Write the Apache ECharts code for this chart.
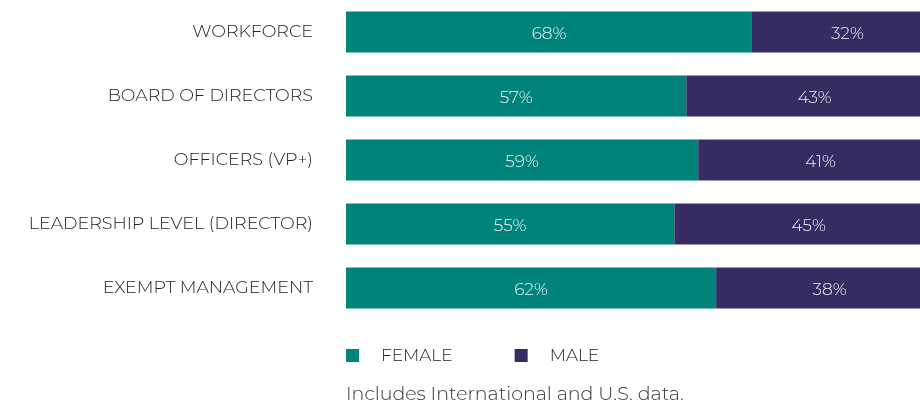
<!DOCTYPE html>
<html>
<head>
<meta charset="utf-8">
<script src="https://cdn.jsdelivr.net/npm/echarts@6/dist/echarts.min.js"></script>
<style>
  html, body { margin: 0; padding: 0; background: #fff; }
  #chart { width: 920px; height: 402px; }
</style>
</head>
<body>
<div id="chart"></div>
<script>
// categories, top to bottom
const categories = [
  "WORKFORCE",
  "BOARD OF DIRECTORS",
  "OFFICERS (VP+)",
  "LEADERSHIP LEVEL (DIRECTOR)",
  "EXEMPT MANAGEMENT"
];
const female = [68, 57, 59, 55, 62];
const male = [32, 43, 41, 45, 38];
const seriesNames = ["FEMALE", "MALE"];
const note = "Includes International and U.S. data.";

const font = "Montserrat, Inter, 'Open Sans', sans-serif";

const chart = echarts.init(document.getElementById("chart"));

const valueLabel = {
  show: true,
  position: "inside",
  offset: [0, 1.5],
  formatter: p => p.value + "%",
  color: "#eef0f2",
  fontSize: 17,
  fontFamily: font,
  fontWeight: 300
};

chart.setOption({
  animation: false,
  color: ["#00837a", "#372c62"],
  // the original bars run past the right edge of the picture
  grid: {
    left: 346,
    top: 0,
    width: 597,
    height: 320,
    containLabel: false,
    outerBoundsMode: "none"
  },
  xAxis: {
    type: "value",
    min: 0,
    max: 100,
    show: false
  },
  yAxis: {
    type: "category",
    inverse: true,
    data: categories,
    axisLine: { show: false },
    axisTick: { show: false },
    axisLabel: {
      margin: 33,
      color: "#222",
      fontSize: 17.5,
      fontFamily: font,
      fontWeight: 300
    }
  },
  legend: {
    left: 346,
    top: 347,
    padding: 0,
    itemWidth: 13,
    itemHeight: 13,
    itemGap: 62,
    icon: "rect",
    data: seriesNames,
    textStyle: {
      color: "#222",
      fontSize: 17,
      fontFamily: font,
      fontWeight: 300,
      padding: [0, 0, 0, 17]
    }
  },
  graphic: [{
    type: "text",
    left: 346,
    top: 385,
    style: {
      text: note,
      fill: "#333",
      fontSize: 19,
      fontFamily: font,
      fontWeight: 300
    }
  }],
  series: [
    {
      name: seriesNames[0],
      type: "bar",
      stack: "total",
      barWidth: 41,
      data: female,
      label: valueLabel
    },
    {
      name: seriesNames[1],
      type: "bar",
      stack: "total",
      barWidth: 41,
      data: male,
      label: valueLabel
    }
  ]
});
</script>
</body>
</html>
